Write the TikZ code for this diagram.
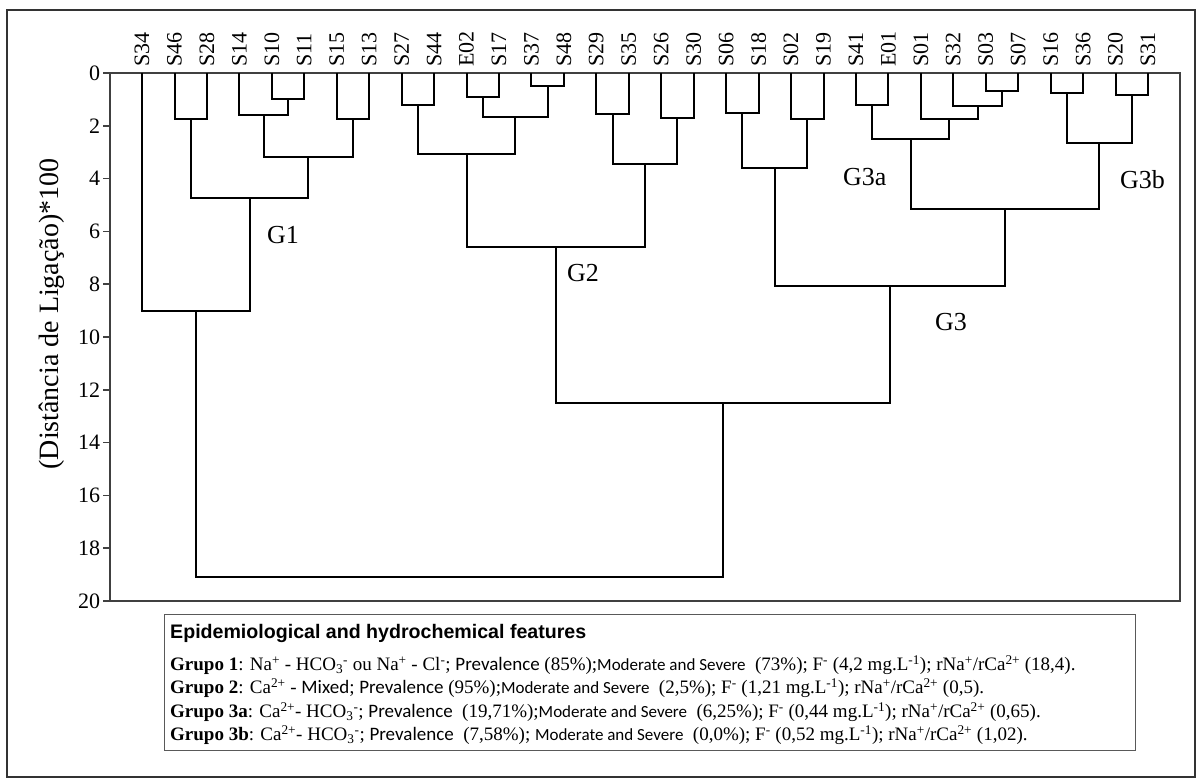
\documentclass[tikz,border=0pt]{standalone}
\usepackage{fontspec}
\setmainfont{Liberation Serif}
\newfontfamily\titlefont{Liberation Sans}
\newfontfamily\calfont{Carlito}
\usetikzlibrary{positioning,calc}

\begin{document}
\begin{tikzpicture}[
    x=1pt, y=-1pt,
    leaf/.style={rotate=90, anchor=west, inner ysep=0pt, inner xsep=6pt, font=\fontsize{22}{24}\selectfont},
    tick/.style={anchor=east, inner sep=2pt, font=\fontsize{22}{24}\selectfont},
    group/.style={anchor=west, inner sep=0pt, font=\fontsize{26}{28}\selectfont},
    link/.style={draw=black, line width=2pt},
    axis/.style={draw=black!75, line width=1.6pt},
    legbox/.style={rectangle, draw=black!65, line width=1.2pt, anchor=north west, inner sep=0pt},
    legline/.style={anchor=west, inner sep=0pt, font=\fontsize{19}{21}\selectfont},
    small/.style={font=\calfont\fontsize{17}{19}\selectfont}
]
\useasboundingbox (0,0) rectangle (1201,783);

% ============ CADRE ============
\draw[draw=black!80, line width=2.4pt] (7,10) rectangle (1195,777);
\draw[axis] (110,73) rectangle (1180,601);

% ============ DENDROGRAMME ============
\begin{scope}[shift={(0,73)}, y=-26.4pt]

% Axe des distances
\draw[axis] (110,0) -- (103,0) node[tick] (tick-0) {0};
\draw[axis] (110,2) -- (103,2) node[tick] (tick-2) {2};
\draw[axis] (110,4) -- (103,4) node[tick] (tick-4) {4};
\draw[axis] (110,6) -- (103,6) node[tick] (tick-6) {6};
\draw[axis] (110,8) -- (103,8) node[tick] (tick-8) {8};
\draw[axis] (110,10) -- (103,10) node[tick] (tick-10) {10};
\draw[axis] (110,12) -- (103,12) node[tick] (tick-12) {12};
\draw[axis] (110,14) -- (103,14) node[tick] (tick-14) {14};
\draw[axis] (110,16) -- (103,16) node[tick] (tick-16) {16};
\draw[axis] (110,18) -- (103,18) node[tick] (tick-18) {18};
\draw[axis] (110,20) -- (103,20) node[tick] (tick-20) {20};

% Amostras
\node[leaf] (S34) at (142.0,0) {S34};
\node[leaf] (S46) at (174.5,0) {S46};
\node[leaf] (S28) at (206.9,0) {S28};
\node[leaf] (S14) at (239.4,0) {S14};
\node[leaf] (S10) at (271.8,0) {S10};
\node[leaf] (S11) at (304.3,0) {S11};
\node[leaf] (S15) at (336.7,0) {S15};
\node[leaf] (S13) at (369.2,0) {S13};
\node[leaf] (S27) at (401.6,0) {S27};
\node[leaf] (S44) at (434.1,0) {S44};
\node[leaf] (E02) at (466.5,0) {E02};
\node[leaf] (S17) at (499.0,0) {S17};
\node[leaf] (S37) at (531.4,0) {S37};
\node[leaf] (S48) at (563.9,0) {S48};
\node[leaf] (S29) at (596.3,0) {S29};
\node[leaf] (S35) at (628.8,0) {S35};
\node[leaf] (S26) at (661.2,0) {S26};
\node[leaf] (S30) at (693.7,0) {S30};
\node[leaf] (S06) at (726.1,0) {S06};
\node[leaf] (S18) at (758.6,0) {S18};
\node[leaf] (S02) at (791.0,0) {S02};
\node[leaf] (S19) at (823.5,0) {S19};
\node[leaf] (S41) at (855.9,0) {S41};
\node[leaf] (E01) at (888.4,0) {E01};
\node[leaf] (S01) at (920.8,0) {S01};
\node[leaf] (S32) at (953.3,0) {S32};
\node[leaf] (S03) at (985.7,0) {S03};
\node[leaf] (S07) at (1018.2,0) {S07};
\node[leaf] (S16) at (1050.6,0) {S16};
\node[leaf] (S36) at (1083.1,0) {S36};
\node[leaf] (S20) at (1115.5,0) {S20};
\node[leaf] (S31) at (1148.0,0) {S31};

% Nos de ligacao - G1
\coordinate (j-s46-s28) at (190.7,1.75);
\coordinate (j-s10-s11) at (288.05,1.0);
\coordinate (j-s14) at (263.7,1.6);
\coordinate (j-s15-s13) at (352.95,1.75);
\coordinate (j-s14-s13) at (308.3,3.2);
\coordinate (j-s46-s13) at (249.5,4.75);
\coordinate (g1) at (195.75,9.0);

% Nos de ligacao - G2
\coordinate (j-s27-s44) at (417.85,1.2);
\coordinate (j-e02-s17) at (482.75,0.9);
\coordinate (j-s37-s48) at (547.65,0.5);
\coordinate (j-e02-s48) at (515.2,1.65);
\coordinate (j-s27-s48) at (466.5,3.05);
\coordinate (j-s29-s35) at (612.55,1.55);
\coordinate (j-s26-s30) at (677.45,1.7);
\coordinate (j-s29-s30) at (645.0,3.45);
\coordinate (g2) at (555.75,6.6);

% Nos de ligacao - G3
\coordinate (j-s06-s18) at (742.35,1.5);
\coordinate (j-s02-s19) at (807.25,1.75);
\coordinate (j-s06-s19) at (774.8,3.6);
\coordinate (j-s41-e01) at (872.15,1.2);
\coordinate (j-s03-s07) at (1001.95,0.7);
\coordinate (j-s32) at (977.6,1.25);
\coordinate (j-s01) at (949.2,1.75);
\coordinate (g3a) at (910.7,2.5);
\coordinate (j-s16-s36) at (1066.85,0.75);
\coordinate (j-s20-s31) at (1131.75,0.85);
\coordinate (g3b) at (1099.3,2.65);
\coordinate (j-g3a-g3b) at (1005.0,5.15);
\coordinate (g3) at (889.9,8.05);

% Nos de ligacao - topo
\coordinate (j-g2-g3) at (722.8,12.5);
\coordinate (root) at (459.3,19.1);

% Ligacoes G1
\draw[link] (S46) |- (j-s46-s28) -| (S28);
\draw[link] (S10) |- (j-s10-s11) -| (S11);
\draw[link] (S14) |- (j-s14) -| (j-s10-s11);
\draw[link] (S15) |- (j-s15-s13) -| (S13);
\draw[link] (j-s14) |- (j-s14-s13) -| (j-s15-s13);
\draw[link] (j-s46-s28) |- (j-s46-s13) -| (j-s14-s13);
\draw[link] (S34) |- (g1) -| (j-s46-s13);

% Ligacoes G2
\draw[link] (S27) |- (j-s27-s44) -| (S44);
\draw[link] (E02) |- (j-e02-s17) -| (S17);
\draw[link] (S37) |- (j-s37-s48) -| (S48);
\draw[link] (j-e02-s17) |- (j-e02-s48) -| (j-s37-s48);
\draw[link] (j-s27-s44) |- (j-s27-s48) -| (j-e02-s48);
\draw[link] (S29) |- (j-s29-s35) -| (S35);
\draw[link] (S26) |- (j-s26-s30) -| (S30);
\draw[link] (j-s29-s35) |- (j-s29-s30) -| (j-s26-s30);
\draw[link] (j-s27-s48) |- (g2) -| (j-s29-s30);

% Ligacoes G3
\draw[link] (S06) |- (j-s06-s18) -| (S18);
\draw[link] (S02) |- (j-s02-s19) -| (S19);
\draw[link] (j-s06-s18) |- (j-s06-s19) -| (j-s02-s19);
\draw[link] (S41) |- (j-s41-e01) -| (E01);
\draw[link] (S03) |- (j-s03-s07) -| (S07);
\draw[link] (S32) |- (j-s32) -| (j-s03-s07);
\draw[link] (S01) |- (j-s01) -| (j-s32);
\draw[link] (j-s41-e01) |- (g3a) -| (j-s01);
\draw[link] (S16) |- (j-s16-s36) -| (S36);
\draw[link] (S20) |- (j-s20-s31) -| (S31);
\draw[link] (j-s16-s36) |- (g3b) -| (j-s20-s31);
\draw[link] (g3a) |- (j-g3a-g3b) -| (g3b);
\draw[link] (j-s06-s19) |- (g3) -| (j-g3a-g3b);

% Ligacoes topo
\draw[link] (g2) |- (j-g2-g3) -| (g3);
\draw[link] (g1) |- (root) -| (j-g2-g3);
\end{scope}

% Titulo do eixo
\node[rotate=90, inner sep=0pt, font=\fontsize{28}{30}\selectfont] (y-title) at (52,314) {(Distância de Ligação)*100};

% Grupos
\node[group] (lbl-g1) at (267,235) {G1};
\node[group] (lbl-g2) at (567,273) {G2};
\node[group] (lbl-g3a) at (843,177) {G3a};
\node[group] (lbl-g3) at (935,322) {G3};
\node[group] (lbl-g3b) at (1120,180) {G3b};

% ============ LEGENDA ============
\node[legbox, minimum width=971pt, minimum height=136pt] (legend) at (164,614) {};
\node[legline, font=\titlefont\bfseries\fontsize{19.6}{21}\selectfont] (leg-title) at (170,633) {Epidemiological and hydrochemical features};
\node[legline] (leg-g1) at (170,665) {\textbf{Grupo 1}: Na\textsuperscript{+} - HCO\textsubscript{3}\textsuperscript{-} ou Na\textsuperscript{+} - Cl\textsuperscript{-}; {\calfont Prevalence} (85\%);{\calfont\fontsize{17}{19}\selectfont Moderate and Severe} \ (73\%); F\textsuperscript{-} (4,2 mg.L\textsuperscript{-1}); rNa\textsuperscript{+}/rCa\textsuperscript{2+} (18,4).};
\node[legline] (leg-g2) at (170,688) {\textbf{Grupo 2}: Ca\textsuperscript{2+} - {\calfont Mixed}; {\calfont Prevalence} (95\%);{\calfont\fontsize{17}{19}\selectfont Moderate and Severe} \ (2,5\%); F\textsuperscript{-} (1,21 mg.L\textsuperscript{-1}); rNa\textsuperscript{+}/rCa\textsuperscript{2+} (0,5).};
\node[legline] (leg-g3a) at (170,712) {\textbf{Grupo 3a}: Ca\textsuperscript{2+}- HCO\textsubscript{3}\textsuperscript{-}; {\calfont Prevalence} \ (19,71\%);{\calfont\fontsize{17}{19}\selectfont Moderate and Severe} \ (6,25\%); F\textsuperscript{-} (0,44 mg.L\textsuperscript{-1}); rNa\textsuperscript{+}/rCa\textsuperscript{2+} (0,65).};
\node[legline] (leg-g3b) at (170,735) {\textbf{Grupo 3b}: Ca\textsuperscript{2+}- HCO\textsubscript{3}\textsuperscript{-}; {\calfont Prevalence} \ (7,58\%); {\calfont\fontsize{17}{19}\selectfont Moderate and Severe} \ (0,0\%); F\textsuperscript{-} (0,52 mg.L\textsuperscript{-1}); rNa\textsuperscript{+}/rCa\textsuperscript{2+} (1,02).};

\end{tikzpicture}
\end{document}
